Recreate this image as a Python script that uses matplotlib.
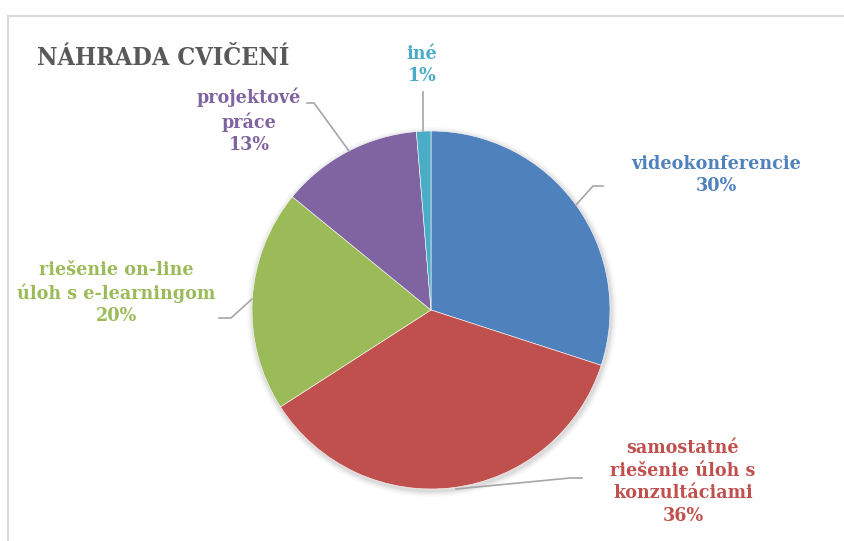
import numpy as np
import matplotlib.pyplot as plt
from matplotlib.patches import Rectangle, Circle

# data (percent shares)
categories = ['videokonferencie', 'samostatné\nriešenie úloh s\nkonzultáciami',
              'riešenie on-line\núloh s e-learningom', 'projektové\npráce', 'iné']
shares = [30.0, 35.9, 20.0, 12.8, 1.3]
colors = ['#4F81BD', '#C0504D', '#9BBB59', '#8064A2', '#4BACC6']
title = 'NÁHRADA CVIČENÍ'

W, H = 844, 541
fig = plt.figure(figsize=(W / 100, H / 100), dpi=100)
ax = fig.add_axes([0, 0, 1, 1])

cx, cy, r = 431, H - 310, 179

# soft shadow behind the pie
for k, a in enumerate([0.05, 0.04, 0.03, 0.02]):
    ax.add_patch(Circle((cx + 1, cy - 2), r + 1.5 * (k + 1), color='black', alpha=a, lw=0, zorder=0))

wedges, _ = ax.pie(shares, colors=colors, startangle=90, counterclock=False,
                   center=(cx, cy), radius=r, frame=True,
                   wedgeprops=dict(edgecolor='white', linewidth=0.4))
for w in wedges:
    w.set_zorder(2)

ax.set_xlim(0, W)
ax.set_ylim(0, H)
ax.set_aspect('equal')
ax.axis('off')

# chart frame
ax.add_patch(Rectangle((8, -20), W + 20, H - 16 + 20, fill=False, ec='#D9D9D9', lw=1.5, zorder=1))

ax.text(37, H - 65, title, fontsize=18, fontweight='bold', color='#595959',
        family='DejaVu Serif', fontstretch='condensed', va='baseline', ha='left')

# label positions in pixel coords (x, y from top) and leader lines
label_pos = [(716, 175), (683, 482), (116, 293), (249, 121), (422, 65)]
leaders = [
    [(603, 186), (593, 186), (576, 205)],
    [(582, 478), (570, 478), (456, 489)],
    [(219, 318), (231, 318), (252, 299)],
    [(307, 103), (314, 103), (349, 151)],
    [(423, 92), (423, 131)],
]

total = sum(shares)
for name, v, c, (lx, ly), pts in zip(categories, shares, colors, label_pos, leaders):
    txt = '%s\n%d%%' % (name, round(v / total * 100))
    ax.text(lx, H - ly, txt, ha='center', va='center', color=c, fontsize=14,
            fontweight='bold', family='DejaVu Serif', fontstretch='condensed',
            linespacing=1.32, zorder=3)
    xs = [p[0] for p in pts]
    ys = [H - p[1] for p in pts]
    ax.plot(xs, ys, color='#A6A6A6', lw=1.2, zorder=3)

fig.savefig('out.png', dpi=100)
